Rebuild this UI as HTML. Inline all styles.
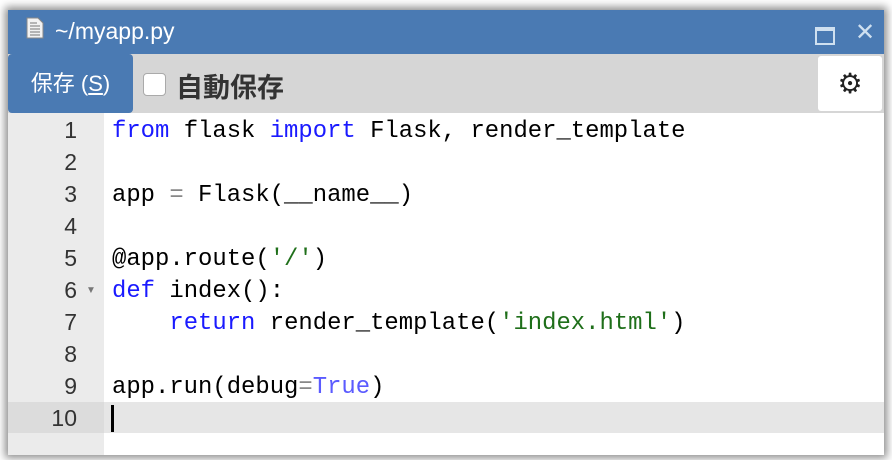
<!DOCTYPE html>
<html><head><meta charset="utf-8"><style>
body{margin:0;width:892px;height:460px;background:#fff;overflow:hidden;position:relative;font-family:"Liberation Sans","Noto Sans CJK TC",sans-serif}
.win{position:absolute;left:8px;top:10px;width:876px;height:445px;background:#fff;box-shadow:0 0 8px 3px rgba(0,0,0,.45)}
.title{position:absolute;left:0;top:0;width:876px;height:44px;background:#4a7ab3;color:#fff;font-size:23px}
.title .t{position:absolute;left:47px;top:8px}
.tool{position:absolute;left:0;top:44px;width:876px;height:59px;background:#d6d6d6}
.btn{position:absolute;left:0;top:44px;width:125px;height:59px;background:#4a7ab3;border-radius:4px;color:#fff;font-size:22px;line-height:59px;text-align:center}
.cb{position:absolute;left:135px;top:63px;width:21px;height:21px;background:#fff;border:1px solid #aaa;border-radius:4px}
.auto{position:absolute;left:168px;top:56px;font-size:27px;font-weight:bold;color:#333}
.gear{position:absolute;left:810px;top:46px;width:64px;height:55px;background:#fff;border-radius:3px;text-align:center;line-height:55px;font-size:28px;color:#222}
.gut{position:absolute;left:0;top:103px;width:96px;height:342px;background:#ebebeb}
.hl{position:absolute;left:0;top:392px;width:876px;height:31px;background:#e6e6e6}
.hl2{position:absolute;left:0;top:392px;width:96px;height:31px;background:#dcdcdc}
.ln{position:absolute;left:0;width:69px;text-align:right;font-size:23px;color:#333}
.code{position:absolute;left:104px;font-family:"Liberation Mono",monospace;font-size:23.9px;white-space:pre;color:#000}
.k{color:#1a1aff}.s{color:#1f6f1a}.o{color:#888}.b{color:#5b5bff}
</style></head><body>
<div class="win">
<div class="title"><svg style="position:absolute;left:18px;top:7px" width="18" height="22"><path d="M1 1h11l5 5v15H1z" fill="#f2f2f2" stroke="#888"/><g stroke="#777"><line x1="4" y1="6" x2="11" y2="6"/><line x1="4" y1="9" x2="14" y2="9"/><line x1="4" y1="12" x2="14" y2="12"/><line x1="4" y1="15" x2="14" y2="15"/><line x1="4" y1="18" x2="14" y2="18"/></g></svg><span class="t">~/myapp.py</span>
<div style="position:absolute;left:807px;top:17px;width:16px;height:12px;border:2px solid #cfe0f0;border-top-width:4px"></div>
<div style="position:absolute;left:847px;top:8px;font-size:24px;color:#cfe0f0">✕</div></div>
<div class="tool"></div>
<div class="btn">保存 (<u>S</u>)</div>
<div class="cb"></div>
<div class="auto">自動保存</div>
<div class="gear">⚙</div>
<div class="gut"></div>
<div class="hl"></div><div class="hl2"></div>
<div style="position:absolute;left:103px;top:395px;width:3px;height:27px;background:#000"></div>
<div class="ln" style="top:107px">1</div>
<div class="ln" style="top:139px">2</div>
<div class="ln" style="top:171px">3</div>
<div class="ln" style="top:203px">4</div>
<div class="ln" style="top:235px">5</div>
<div class="ln" style="top:267px">6</div>
<div style="position:absolute;left:78px;top:275px;font-size:10px;color:#777">▼</div>
<div class="ln" style="top:299px">7</div>
<div class="ln" style="top:331px">8</div>
<div class="ln" style="top:363px">9</div>
<div class="ln" style="top:395px">10</div>
<div class="code" style="top:108px"><span class="k">from</span> flask <span class="k">import</span> Flask, render_template</div>
<div class="code" style="top:172px">app <span class="o">=</span> Flask(__name__)</div>
<div class="code" style="top:236px">@app.route(<span class="s">'/'</span>)</div>
<div class="code" style="top:268px"><span class="k">def</span> index():</div>
<div class="code" style="top:300px">    <span class="k">return</span> render_template(<span class="s">'index.html'</span>)</div>
<div class="code" style="top:364px">app.run(debug<span class="o">=</span><span class="b">True</span>)</div>
</div>
</body></html>
